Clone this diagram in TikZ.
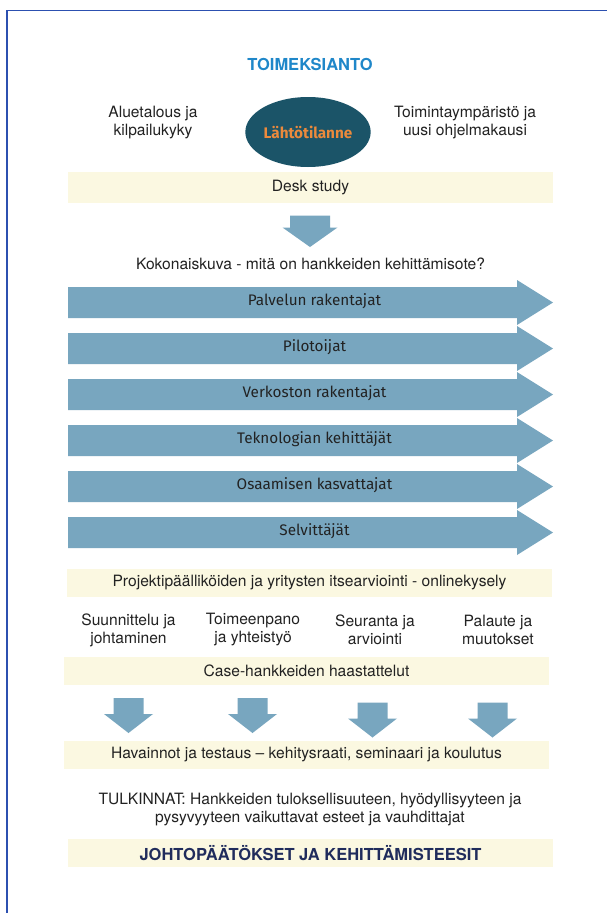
\documentclass[tikz,border=0pt]{standalone}
\usepackage{fontspec}
\setmainfont{TeX Gyre Heros}
\newfontfamily\labelfont{Fira Sans}
\usetikzlibrary{shapes.geometric}

\definecolor{frameblue}{HTML}{2C50B0}
\definecolor{titleblue}{HTML}{1F87C9}
\definecolor{arrowblue}{HTML}{78A6BF}
\definecolor{boxyellow}{HTML}{FBF8E1}
\definecolor{ovalteal}{HTML}{1B5468}
\definecolor{ovalorange}{HTML}{EC8A3C}
\definecolor{bodytext}{HTML}{222222}
\definecolor{navytext}{HTML}{202C5C}

\tikzset{
  txt/.style={font=\fontsize{15.6}{18}\selectfont, text=bodytext, align=center, inner sep=0pt},
  band/.style={fill=boxyellow, minimum height=31pt, inner sep=0pt, font=\fontsize{15.6}{18}\selectfont, text=bodytext},
  armlabel/.style={font=\labelfont\fontsize{15.3}{17}\selectfont, text=bodytext, inner sep=0pt},
  bandarrow/.pic={
    \fill[arrowblue] (0,-15.5) -- (449,-15.5) -- (449,-22.5) -- (485,0)
      -- (449,22.5) -- (449,15.5) -- (0,15.5) -- cycle;
  },
  smalldown/.pic={
    \fill[arrowblue] (-15,0) -- (15,0) -- (15,16) -- (24.5,16) -- (0,35)
      -- (-24.5,16) -- (-15,16) -- (-15,0) -- cycle;
  },
  bigdown/.pic={
    \fill[arrowblue] (-20,0) -- (20,0) -- (20,12) -- (27.5,12) -- (0,31.5)
      -- (-27.5,12) -- (-20,12) -- (-20,0) -- cycle;
  }
}

\begin{document}
\begin{tikzpicture}[x=1pt,y=-1pt]
\useasboundingbox (0,0) rectangle (607,913);
\fill[white] (0,0) rectangle (607,913);

% page frame (left and top edges)
\draw[frameblue, line width=1.6pt] (6.8,913) -- (6.8,10.6) -- (607,10.6);

% heading and starting point
\node[txt, font=\bfseries\fontsize{16.5}{18}\selectfont, text=titleblue] (title) at (310,64) {TOIMEKSIANTO};
\node[ellipse, fill=ovalteal, minimum width=114pt, minimum height=70pt, inner sep=0pt,
      font=\labelfont\bfseries\fontsize{15.3}{17}\selectfont, text=ovalorange] (start) at (308,132) {Lähtötilanne};
\node[txt] (economy) at (153,123) {Aluetalous ja\\kilpailukyky};
\node[txt] (environment) at (465,123) {Toimintaympäristö ja\\uusi ohjelmakausi};

% desk study
\node[band, minimum width=485pt] (desk) at (310.5,187.5) {Desk study};
\pic at (310,215.5) {bigdown};
\node[txt] (overview) at (310.5,264) {Kokonaiskuva - mitä on hankkeiden kehittämisote?};

% project types
\foreach \lbl [count=\i from 0] in {Palvelun rakentajat, Pilotoijat, Verkoston rakentajat,
    Teknologian kehittäjät, Osaamisen kasvattajat, Selvittäjät} {
  \pic at (68,302.5+46*\i) {bandarrow};
  \node[armlabel] (type\i) at (314.5,301.5+46*\i) {\lbl};
}

% self-assessment survey
\node[band, minimum width=485pt, minimum height=28pt] (survey) at (309.5,583) {Projektipäälliköiden ja yritysten itsearviointi - onlinekysely};
\node[txt] (plan) at (128.5,630) {Suunnittelu ja\\johtaminen};
\node[txt] (impl) at (253,630) {Toimeenpano\\ja yhteistyö};
\node[txt] (follow) at (375,630) {Seuranta ja\\arviointi};
\node[txt] (feedback) at (498,630) {Palaute ja\\muutokset};

% case interviews
\node[band, minimum width=485pt, minimum height=28pt] (cases) at (306.5,671) {Case-hankkeiden haastattelut};
\pic at (128.5,698) {smalldown};
\pic at (252.5,698) {smalldown};
\pic at (372.5,702.5) {smalldown};
\pic at (492.5,702.5) {smalldown};

% observations and conclusions
\node[band, minimum width=485pt, minimum height=28pt] (observe) at (306.5,755) {Havainnot ja testaus -- kehitysraati, seminaari ja koulutus};
\node[txt] (interpret) at (310,810) {TULKINNAT: Hankkeiden tuloksellisuuteen, hyödyllisyyteen ja\\pysyvyyteen vaikuttavat esteet ja vauhdittajat};
\node[band, minimum width=485pt, minimum height=28pt, font=\bfseries\fontsize{16.5}{18}\selectfont, text=navytext] (concl) at (310.5,853) {JOHTOPÄÄTÖKSET JA KEHITTÄMISTEESIT};
\end{tikzpicture}
\end{document}
